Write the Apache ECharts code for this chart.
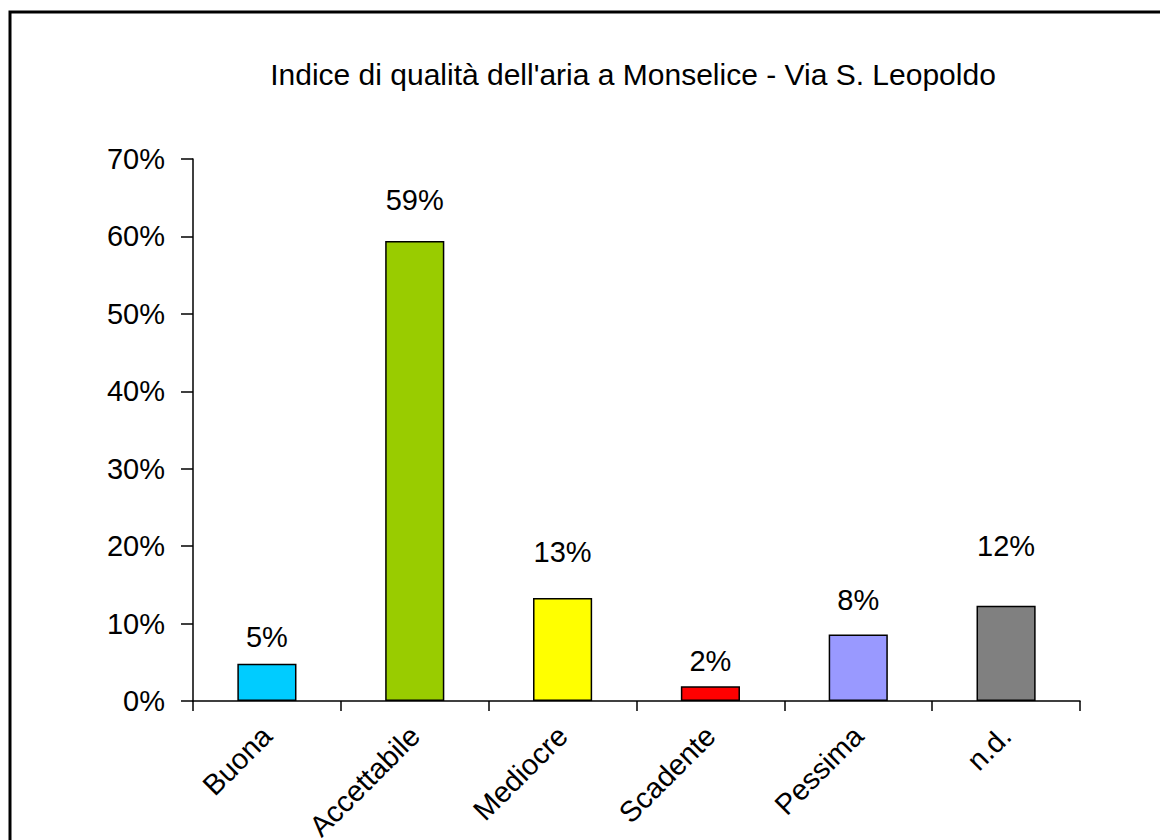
<!DOCTYPE html>
<html>
<head>
<meta charset="utf-8">
<script src="https://cdn.jsdelivr.net/npm/echarts@6/dist/echarts.min.js"></script>
<style>
  html, body { margin: 0; padding: 0; background: #fff; }
  #chart { width: 1160px; height: 840px; }
</style>
</head>
<body>
<div id="chart"></div>
<script>
(function() {
  var titleText = "Indice di qualità dell'aria a Monselice - Via S. Leopoldo";
  var categories = ['Buona', 'Accettabile', 'Mediocre', 'Scadente', 'Pessima', 'n.d.'];
  var values = [4.8, 59.4, 13.3, 1.9, 8.6, 12.3];
  var valueLabels = ['5%', '59%', '13%', '2%', '8%', '12%'];
  var barColors = ['#00ccff', '#99cc00', '#ffff00', '#ff0000', '#9999ff', '#808080'];
  // label gaps above each bar, as placed in the original
  var labelGaps = [12, 27, 32, 11, 20, 45];

  var font = '"Liberation Sans", Arial, sans-serif';

  var chart = echarts.init(document.getElementById('chart'), null, { renderer: 'svg' });
  chart.setOption({
    animation: false,
    backgroundColor: '#fff',
    title: {
      text: titleText,
      left: 628,
      textAlign: 'center',
      top: 54,
      textStyle: { fontFamily: font, fontSize: 30, fontWeight: 'normal', color: '#000' }
    },
    graphic: [{
      type: 'rect',
      shape: { x: 10, y: 12, width: 1300, height: 1000 },
      style: { fill: 'none', stroke: '#000', lineWidth: 3 },
      silent: true
    }],
    // labels run off the bottom edge in the original, so no auto-fit
    grid: { left: 193, right: 80, top: 159, bottom: 139, outerBoundsMode: 'none', containLabel: false },
    xAxis: {
      type: 'category',
      data: categories,
      boundaryGap: true,
      axisLine: { lineStyle: { color: '#000', width: 1.5 } },
      axisTick: { show: true, length: 10, lineStyle: { color: '#000', width: 1.5 } },
      axisLabel: {
        rotate: 45,
        margin: 30,
        color: '#000',
        fontFamily: font,
        fontSize: 29
      }
    },
    yAxis: {
      type: 'value',
      min: 0,
      max: 70,
      interval: 10,
      splitLine: { show: false },
      axisLine: { show: true, lineStyle: { color: '#000', width: 1.5 } },
      axisTick: { show: true, length: 12, lineStyle: { color: '#000', width: 1.5 } },
      axisLabel: {
        formatter: '{value}%',
        margin: 28,
        color: '#000',
        fontFamily: font,
        fontSize: 29
      }
    },
    series: [{
      type: 'bar',
      barWidth: '40%',
      data: values.map(function(v, i) {
        return {
          value: v,
          itemStyle: { color: barColors[i] },
          label: { distance: labelGaps[i] }
        };
      }),
      itemStyle: { borderColor: '#000', borderWidth: 1.5 },
      label: {
        show: true,
        position: 'top',
        color: '#000',
        fontFamily: font,
        fontSize: 29,
        formatter: function(p) { return valueLabels[p.dataIndex]; }
      }
    }]
  });
})();
</script>
</body>
</html>
